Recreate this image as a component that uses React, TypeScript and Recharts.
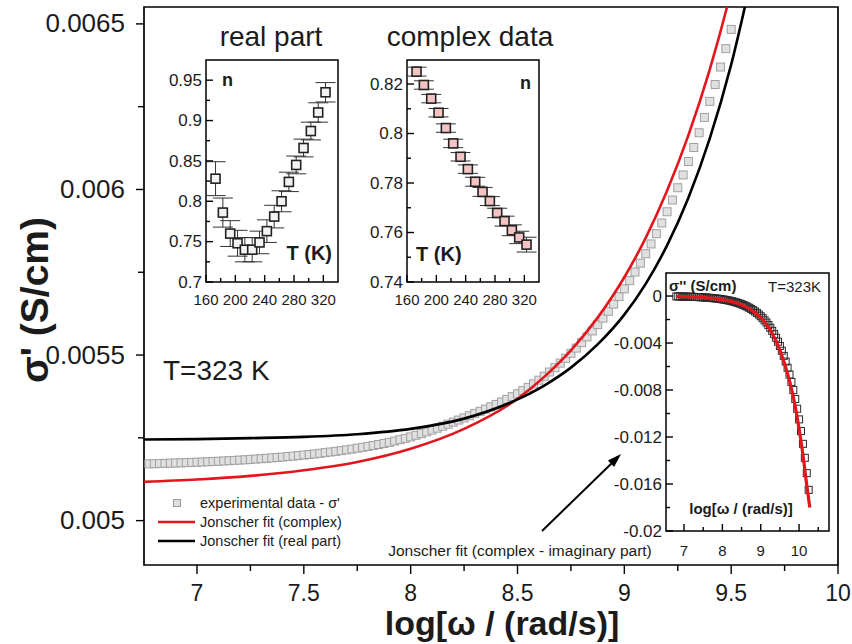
import React from "react";
import {
  ComposedChart,
  Scatter,
  Line,
  XAxis,
  YAxis,
  ReferenceArea,
  ErrorBar,
  Legend,
} from "recharts";

const FONT = "'Liberation Sans', Arial, Helvetica, sans-serif";
const INK = "#1b1b1b";
const RED = "#e3161d";

// ---------- main panel: sigma' vs log(omega) ----------
const expLogW = [
  6.775, 6.8, 6.825, 6.85, 6.875, 6.9, 6.925, 6.95, 6.975, 7.0,
  7.025, 7.05, 7.075, 7.1, 7.125, 7.15, 7.175, 7.2, 7.225, 7.25,
  7.275, 7.3, 7.325, 7.35, 7.375, 7.4, 7.425, 7.45, 7.475, 7.5,
  7.525, 7.55, 7.575, 7.6, 7.625, 7.65, 7.675, 7.7, 7.725, 7.75,
  7.775, 7.8, 7.825, 7.85, 7.875, 7.9, 7.925, 7.95, 7.975, 8.0,
  8.025, 8.05, 8.075, 8.1, 8.125, 8.15, 8.175, 8.2, 8.225, 8.25,
  8.275, 8.3, 8.325, 8.35, 8.375, 8.4, 8.425, 8.45, 8.475, 8.5,
  8.525, 8.55, 8.575, 8.6, 8.625, 8.65, 8.675, 8.7, 8.725, 8.75,
  8.775, 8.8, 8.825, 8.85, 8.875, 8.9, 8.925, 8.95, 8.975, 9.0,
  9.025, 9.05, 9.075, 9.1, 9.125, 9.15, 9.175, 9.2, 9.225, 9.25,
  9.275, 9.3, 9.325, 9.35, 9.375, 9.4, 9.425, 9.45, 9.475, 9.5,
];
const expSigma = [
  0.0051715, 0.005172, 0.0051724, 0.0051729, 0.0051735, 0.005174, 0.0051746, 0.0051752, 0.0051758, 0.0051764,
  0.0051771, 0.0051778, 0.0051786, 0.0051794, 0.0051802, 0.005181, 0.0051819, 0.0051828, 0.0051838, 0.0051848,
  0.0051859, 0.005187, 0.0051882, 0.0051894, 0.0051907, 0.005192, 0.0051934, 0.0051949, 0.0051964, 0.005198,
  0.0051997, 0.0052014, 0.0052033, 0.0052052, 0.0052072, 0.0052093, 0.0052114, 0.0052137, 0.0052161, 0.0052186,
  0.0052213, 0.005224, 0.0052269, 0.0052299, 0.005233, 0.0052363, 0.0052402, 0.0052443, 0.0052485, 0.0052529,
  0.0052578, 0.0052628, 0.005268, 0.0052735, 0.0052792, 0.0052851, 0.0052911, 0.0052976, 0.0053037, 0.0053102,
  0.0053168, 0.0053237, 0.0053301, 0.0053366, 0.0053436, 0.0053509, 0.0053583, 0.0053661, 0.0053743, 0.0053829,
  0.0053925, 0.0054025, 0.0054131, 0.0054241, 0.0054361, 0.0054488, 0.0054619, 0.0054757, 0.0054902, 0.0055053,
  0.005521, 0.0055375, 0.0055548, 0.0055729, 0.0055918, 0.0056115, 0.0056322, 0.0056538, 0.0056764, 0.0057,
  0.0057247, 0.0057506, 0.0057776, 0.0058059, 0.0058355, 0.0058665, 0.0058988, 0.0059327, 0.0059681, 0.0060052,
  0.0060439, 0.0060844, 0.0061268, 0.0061712, 0.0062175, 0.006266, 0.0063168, 0.0063698, 0.0064253, 0.0064834,
];

const fitLogW = [6.75, 7.0, 7.25, 7.5, 7.75, 8.0, 8.25, 8.5, 8.625, 8.75, 8.875, 9.0, 9.1, 9.2, 9.3, 9.4, 9.5, 9.6];
const fitComplex = [
  0.005117, 0.005124, 0.005135, 0.005152, 0.005177, 0.005217, 0.005277, 0.005368, 0.005434,
  0.005514, 0.005613, 0.005735, 0.005854, 0.005996, 0.006164, 0.006363, 0.0066, 0.006882,
];
const fitReal = [
  0.005245, 0.005246, 0.005249, 0.005253, 0.005261, 0.005277, 0.005308, 0.005366, 0.005408,
  0.005462, 0.005532, 0.005622, 0.005715, 0.005831, 0.005975, 0.006154, 0.006377, 0.006654,
];

const mainXTicks = [7, 7.25, 7.5, 7.75, 8, 8.25, 8.5, 8.75, 9, 9.25, 9.5, 9.75, 10];
const mainXLabels = ["7", "", "7.5", "", "8", "", "8.5", "", "9", "", "9.5", "", "10"];
const mainYTicks = [0.005, 0.00525, 0.0055, 0.00575, 0.006, 0.00625, 0.0065];
const mainYLabels = ["0.005", "", "0.0055", "", "0.006", "", "0.0065"];

const legendNames = ["experimental data - σ'", "Jonscher fit (complex)", "Jonscher fit (real part)"];

// ---------- inset: exponent n, real-part fit ----------
const tempK = [173, 183, 193, 203, 213, 223, 233, 243, 253, 263, 273, 283, 293, 303, 313, 323];
const nReal = [0.828, 0.786, 0.76, 0.748, 0.74, 0.74, 0.749, 0.763, 0.781, 0.8, 0.824, 0.845, 0.866, 0.887, 0.91, 0.935];
const nRealErr = [0.021, 0.018, 0.016, 0.016, 0.015, 0.015, 0.014, 0.014, 0.014, 0.013, 0.012, 0.011, 0.011, 0.011, 0.012, 0.012];

// ---------- inset: exponent n, complex fit ----------
const nComplex = [0.825, 0.8196, 0.8141, 0.8084, 0.8022, 0.796, 0.7906, 0.7856, 0.7805, 0.7764, 0.7727, 0.7679, 0.7646, 0.7609, 0.758, 0.7551];
const nComplexErr = [0.0018, 0.0017, 0.0017, 0.0017, 0.0017, 0.0017, 0.0017, 0.0017, 0.0018, 0.0018, 0.0018, 0.0019, 0.002, 0.0022, 0.0025, 0.003];

const tempTicks = [160, 180, 200, 220, 240, 260, 280, 300, 320];
const tempLabels = ["160", "", "200", "", "240", "", "280", "", "320"];
const realYTicks = [0.7, 0.725, 0.75, 0.775, 0.8, 0.825, 0.85, 0.875, 0.9, 0.925, 0.95];
const realYLabels = ["0.7", "", "0.75", "", "0.8", "", "0.85", "", "0.9", "", "0.95"];
const cplxYTicks = [0.74, 0.75, 0.76, 0.77, 0.78, 0.79, 0.8, 0.81, 0.82];
const cplxYLabels = ["0.74", "", "0.76", "", "0.78", "", "0.8", "", "0.82"];

// ---------- inset: sigma'' vs log(omega) ----------
const imLogW = [
  6.8, 6.85, 6.9, 6.95, 7.0, 7.05, 7.1, 7.15, 7.2, 7.25,
  7.3, 7.35, 7.4, 7.45, 7.5, 7.55, 7.6, 7.65, 7.7, 7.75,
  7.8, 7.85, 7.9, 7.95, 8.0, 8.05, 8.1, 8.15, 8.2, 8.25,
  8.3, 8.35, 8.4, 8.45, 8.5, 8.55, 8.6, 8.65, 8.7, 8.75,
  8.8, 8.85, 8.9, 8.95, 9.0, 9.05, 9.1, 9.15, 9.2, 9.25,
  9.3, 9.35, 9.4, 9.45, 9.5, 9.55, 9.6, 9.65, 9.7, 9.75,
  9.8, 9.85, 9.9, 9.95, 10.0, 10.05, 10.1, 10.15, 10.2, 10.25,
];
const imSigma = [
  -0.000032, -0.000035, -0.000039, -0.000042, -0.000046, -0.000051, -0.000056, -0.000061, -0.000067, -0.000073,
  -0.00008, -0.000087, -0.000096, -0.000105, -0.000115, -0.000125, -0.000137, -0.00015, -0.000164, -0.00018,
  -0.000197, -0.000215, -0.000236, -0.000258, -0.000282, -0.000309, -0.000338, -0.00037, -0.000405, -0.000444,
  -0.000486, -0.000532, -0.000582, -0.000637, -0.000697, -0.000763, -0.000836, -0.000915, -0.001001, -0.001096,
  -0.001199, -0.001313, -0.001437, -0.001573, -0.001722, -0.001885, -0.002063, -0.002258, -0.002472, -0.002706,
  -0.002962, -0.003242, -0.003549, -0.003885, -0.004252, -0.004654, -0.005095, -0.005577, -0.006104, -0.006682,
  -0.007314, -0.008006, -0.008763, -0.009592, -0.0105, -0.011493, -0.01258, -0.013771, -0.015074, -0.0165,
];
const imFitLogW = [6.8, 7.0, 7.5, 8.0, 8.5, 8.75, 9.0, 9.25, 9.5, 9.75, 9.9, 10.0, 10.1, 10.2, 10.28];
const imFit = [-0.00003, -0.00005, -0.00012, -0.0003, -0.00075, -0.00118, -0.00185, -0.0029, -0.0046, -0.0072, -0.0094, -0.0113, -0.0135, -0.0161, -0.018];

const imXTicks = [7, 7.5, 8, 8.5, 9, 9.5, 10, 10.5];
const imXLabels = ["7", "", "8", "", "9", "", "10", ""];
const imYTicks = [-0.02, -0.018, -0.016, -0.014, -0.012, -0.01, -0.008, -0.006, -0.004, -0.002, 0];
const imYLabels = ["-0.02", "", "-0.016", "", "-0.012", "", "-0.008", "", "-0.004", "", "0"];

// ---------- built tables ----------
const expData = expLogW.map((x, i) => ({ x, y: expSigma[i] }));
const complexFitData = fitLogW.map((x, i) => ({ x, y: fitComplex[i] }));
const realFitData = fitLogW.map((x, i) => ({ x, y: fitReal[i] }));
const nRealData = tempK.map((x, i) => ({ x, y: nReal[i], err: nRealErr[i] }));
const nComplexData = tempK.map((x, i) => ({ x, y: nComplex[i], err: nComplexErr[i] }));
const imData = imLogW.map((x, i) => ({ x, y: imSigma[i] }));
const imFitData = imFitLogW.map((x, i) => ({ x, y: imFit[i] }));

// ---------- helpers ----------
type TickOpts = {
  labels: string[];
  side: "bottom" | "left";
  inside: boolean;
  major: number;
  minor: number;
  fontSize: number;
  offset: number;
};

const makeTick = (o: TickOpts) => (props: any) => {
  const { x, y, index } = props;
  const label = o.labels[index] ?? "";
  const len = label ? o.major : o.minor;
  if (o.side === "bottom") {
    const y2 = o.inside ? y - len : y + len;
    return (
      <g>
        <line x1={x} x2={x} y1={y} y2={y2} stroke="#000" strokeWidth={1.4} />
        {label && (
          <text x={x} y={y + o.offset} textAnchor="middle" fontSize={o.fontSize} fontFamily={FONT} fill={INK}>
            {label}
          </text>
        )}
      </g>
    );
  }
  const x2 = o.inside ? x + len : x - len;
  return (
    <g>
      <line x1={x} x2={x2} y1={y} y2={y} stroke="#000" strokeWidth={1.4} />
      {label && (
        <text x={x - o.offset} y={y + o.fontSize * 0.33} textAnchor="end" fontSize={o.fontSize} fontFamily={FONT} fill={INK}>
          {label}
        </text>
      )}
    </g>
  );
};

const square = (size: number, fill: string, stroke: string, sw: number) => (props: any) => {
  const { cx, cy } = props;
  if (cx == null || cy == null) return <g />;
  return <rect x={cx - size / 2} y={cy - size / 2} width={size} height={size} fill={fill} stroke={stroke} strokeWidth={sw} />;
};

const MainLegend = () => (
  <svg width={260} height={60} style={{ display: "block" }}>
    <rect x={23.5} y={6.5} width={7} height={7} fill="#dedede" stroke="#9a9a9a" strokeWidth={1} />
    <line x1={8} x2={45} y1={29} y2={29} stroke={RED} strokeWidth={2.6} />
    <line x1={8} x2={45} y1={48} y2={48} stroke="#000" strokeWidth={2.6} />
    {legendNames.map((name, i) => (
      <text key={name} x={50} y={15 + i * 19} fontSize={14.5} fontFamily={FONT} fill={INK}>
        {name}
      </text>
    ))}
  </svg>
);

const Inset = (p: {
  left: number; top: number; width: number; height: number;
  margin: any; yWidth: number; xHeight: number;
  xDomain: [number, number]; yDomain: [number, number];
  xTicks: number[]; xLabels: string[]; yTicks: number[]; yLabels: string[];
  xOffset: number; children: React.ReactNode;
}) => (
  <div style={{ position: "absolute", left: p.left, top: p.top }}>
    <ComposedChart width={p.width} height={p.height} margin={p.margin}>
      <XAxis
        type="number" dataKey="x" domain={p.xDomain} ticks={p.xTicks} interval={0} allowDataOverflow
        height={p.xHeight} tickSize={0} tickMargin={0} tickLine={false} axisLine={false}
        tick={makeTick({ labels: p.xLabels, side: "bottom", inside: true, major: 7, minor: 4, fontSize: 15, offset: p.xOffset })}
      />
      <YAxis
        type="number" dataKey="y" domain={p.yDomain} ticks={p.yTicks} interval={0} allowDataOverflow
        width={p.yWidth} tickSize={0} tickMargin={0} tickLine={false} axisLine={false}
        tick={makeTick({ labels: p.yLabels, side: "left", inside: true, major: 7, minor: 4, fontSize: 17, offset: 4 })}
      />
      <ReferenceArea x1={p.xDomain[0]} x2={p.xDomain[1]} y1={p.yDomain[0]} y2={p.yDomain[1]} fill="none" stroke="#000" strokeWidth={1.5} />
      {p.children}
    </ComposedChart>
  </div>
);

export default function App() {
  return (
    <div style={{ position: "absolute", left: 0, top: 0, width: 852, height: 644, background: "#fff", overflow: "hidden" }}>
      <div style={{ position: "absolute", left: 0, top: 0 }}>
        <ComposedChart width={852} height={644} margin={{ top: 7, right: 14, bottom: 0, left: 0 }}>
          <XAxis
            type="number" dataKey="x" domain={[6.752, 10]} ticks={mainXTicks} interval={0} allowDataOverflow
            height={79} tickSize={0} tickMargin={0} tickLine={false} axisLine={false}
            tick={makeTick({ labels: mainXLabels, side: "bottom", inside: false, major: 9, minor: 6, fontSize: 23, offset: 36 })}
          />
          <YAxis
            type="number" dataKey="y" domain={[0.004866, 0.006551]} ticks={mainYTicks} interval={0} allowDataOverflow
            width={144} tickSize={0} tickMargin={0} tickLine={false} axisLine={false}
            tick={makeTick({ labels: mainYLabels, side: "left", inside: false, major: 8, minor: 6, fontSize: 26, offset: 19 })}
          />
          <ReferenceArea x1={6.752} x2={10} y1={0.004866} y2={0.006551} fill="none" stroke="#000" strokeWidth={1.7} />
          <Scatter data={expData} shape={square(8, "#e0e0e0", "#a0a0a0", 1)} isAnimationActive={false} />
          <Line data={complexFitData} dataKey="y" type="monotone" stroke={RED} strokeWidth={2.6} dot={false} isAnimationActive={false} zIndex={700} />
          <Line data={realFitData} dataKey="y" type="monotone" stroke="#000" strokeWidth={2.6} dot={false} isAnimationActive={false} zIndex={700} />
          <Legend
            layout="vertical" align="center" verticalAlign="middle"
            wrapperStyle={{ left: 150, top: 493, width: 260, height: 60 }}
            content={MainLegend}
          />
        </ComposedChart>
      </div>

      <Inset
        left={150} top={50} width={200} height={265} margin={{ top: 10, right: 12, left: 0, bottom: 0 }}
        yWidth={56} xHeight={33} xDomain={[160, 340]} yDomain={[0.7, 0.975]}
        xTicks={tempTicks} xLabels={tempLabels} yTicks={realYTicks} yLabels={realYLabels} xOffset={23}
      >
        <Scatter data={nRealData} shape={square(9, "#f2f2f2", "#222", 1.6)} isAnimationActive={false}>
          <ErrorBar dataKey="err" direction="y" width={10} stroke="#333" strokeWidth={1} />
        </Scatter>
      </Inset>

      <Inset
        left={351} top={50} width={201} height={265} margin={{ top: 10, right: 13, left: 0, bottom: 0 }}
        yWidth={56} xHeight={33} xDomain={[160, 340]} yDomain={[0.74, 0.8297]}
        xTicks={tempTicks} xLabels={tempLabels} yTicks={cplxYTicks} yLabels={cplxYLabels} xOffset={23}
      >
        <Scatter data={nComplexData} shape={square(9, "#f4c4c4", "#222", 1.6)} isAnimationActive={false}>
          <ErrorBar dataKey="err" direction="y" width={10} stroke="#333" strokeWidth={1} />
        </Scatter>
      </Inset>

      <Inset
        left={600} top={262} width={252} height={308} margin={{ top: 11, right: 23, left: 0, bottom: 0 }}
        yWidth={66} xHeight={39} xDomain={[6.53, 10.78]} yDomain={[-0.02, 0.00196]}
        xTicks={imXTicks} xLabels={imXLabels} yTicks={imYTicks} yLabels={imYLabels} xOffset={25}
      >
        <Scatter data={imData} shape={square(7, "none", "#2a2a2a", 1)} isAnimationActive={false} />
        <Line data={imFitData} dataKey="y" type="monotone" stroke={RED} strokeWidth={3.2} dot={false} isAnimationActive={false} zIndex={700} />
      </Inset>

      <svg width={852} height={644} style={{ position: "absolute", left: 0, top: 0, pointerEvents: "none" }} fontFamily={FONT}>
        <text transform="translate(48,300) rotate(-90)" textAnchor="middle" fontSize={39} fontWeight="bold" fill={INK}>
          σ' (S/cm)
        </text>
        <text x={502} y={635} textAnchor="middle" fontSize={34} fontWeight="bold" fill={INK}>
          log[ω / (rad/s)]
        </text>
        <text x={163} y={380} fontSize={28} fill={INK}>T=323 K</text>
        <text x={271} y={46} textAnchor="middle" fontSize={28} fill={INK}>real part</text>
        <text x={470} y={46} textAnchor="middle" fontSize={28} fill={INK}>complex data</text>
        <text x={222} y={86} fontSize={18} fontWeight="bold" fill={INK}>n</text>
        <text x={332} y={260} textAnchor="end" fontSize={20} fontWeight="bold" fill={INK}>T (K)</text>
        <text x={531} y={89} textAnchor="end" fontSize={18} fontWeight="bold" fill={INK}>n</text>
        <text x={416} y={261} fontSize={20} fontWeight="bold" fill={INK}>T (K)</text>
        <text x={669} y={291} fontSize={15} fontWeight="bold" fill={INK}>σ'' (S/cm)</text>
        <text x={821} y={292} textAnchor="end" fontSize={15} fill={INK}>T=323K</text>
        <text x={741} y={514} textAnchor="middle" fontSize={15} fontWeight="bold" fill={INK}>log[ω / (rad/s)]</text>
        <text x={520} y={556} textAnchor="middle" fontSize={15.5} fill={INK}>Jonscher fit (complex - imaginary part)</text>
        <line x1={542} y1={531} x2={613} y2={462} stroke="#000" strokeWidth={2} />
        <polygon points="621,454 614.1,467 607.9,460.6" fill="#000" />
      </svg>
    </div>
  );
}
